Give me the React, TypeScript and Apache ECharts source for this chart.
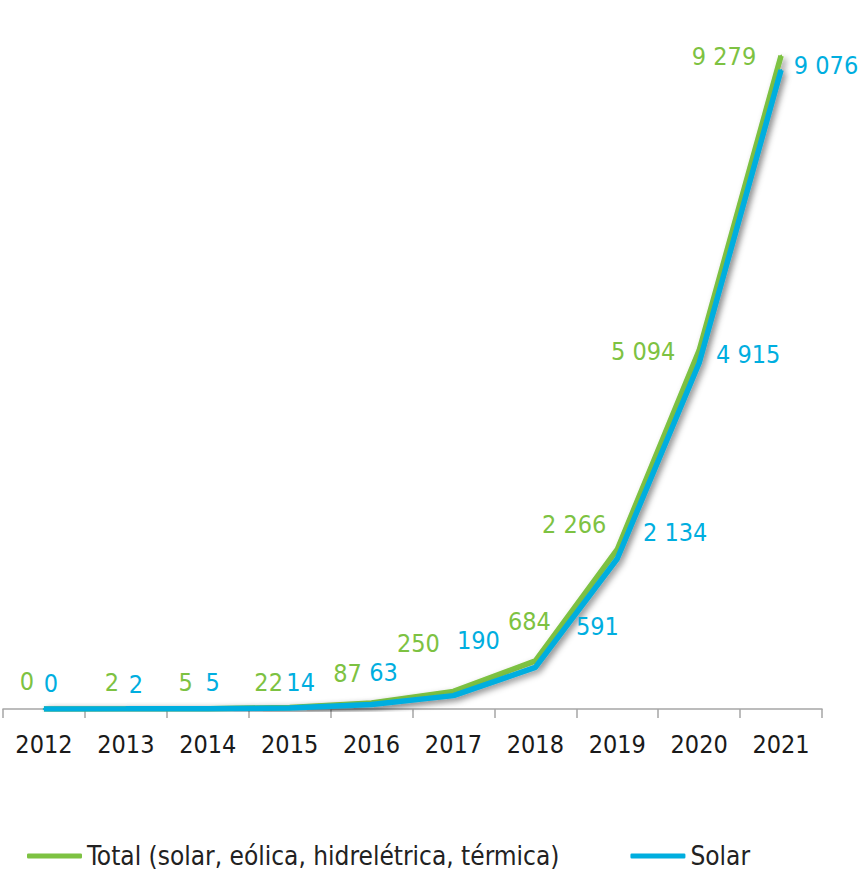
import React, { useEffect, useRef } from "react";
import * as echarts from "echarts";

const years = ["2012", "2013", "2014", "2015", "2016", "2017", "2018", "2019", "2020", "2021"];
const totalValues = [0, 2, 5, 22, 87, 250, 684, 2266, 5094, 9279];
const solarValues = [0, 2, 5, 14, 63, 190, 591, 2134, 4915, 9076];

const totalName = "Total (solar, eólica, hidrelétrica, térmica)";
const solarName = "Solar";

// label offsets (label centre relative to its point), in pixels
const totalLabelOffsets = [
  [-17, -28], [-14, -26], [-22, -26], [-21, -25], [-24, -29],
  [-35, -48], [-6, -39], [-43, -25], [-56, 1], [-57, 1],
];
const solarLabelOffsets = [
  [7, -26], [10, -24], [5, -26], [11, -26], [12, -32],
  [25, -55], [62, -41], [58, -26], [49, -8], [45, -5],
];

const GREEN = "#7DC242";
const BLUE = "#00AEDF";
const FONT = "'DejaVu Sans Condensed', 'DejaVu Sans', sans-serif";

const fmt = (v: number) => String(v).replace(/\B(?=(\d{3})+(?!\d))/g, " ");

function buildData(values: number[], offsets: number[][]) {
  return values.map((v, i) => ({
    value: v,
    label: { offset: offsets[i] },
  }));
}

export default function App() {
  const ref = useRef<HTMLDivElement>(null);
  useEffect(() => {
    if (!ref.current) return;
    const chart = echarts.init(ref.current, undefined, { renderer: "svg" });
    const lineShadow = {
      shadowColor: "rgba(0,0,0,0.4)",
      shadowBlur: 6,
      shadowOffsetX: 3,
      shadowOffsetY: 3,
    };
    chart.setOption({
      animation: false,
      backgroundColor: "#ffffff",
      grid: { left: 3, right: 42, top: 5, bottom: 163, containLabel: false },
      legend: {
        left: 22,
        top: 838,
        itemGap: 71,
        itemWidth: 55,
        itemHeight: 5,
        icon: "roundRect",
        textStyle: { fontFamily: FONT, fontSize: 26, lineHeight: 26, color: "#222222" },
        data: [totalName, solarName],
      },
      xAxis: {
        type: "category",
        data: years,
        boundaryGap: true,
        axisLine: { lineStyle: { color: "#A6A6A6", width: 1.5 } },
        axisTick: { show: true, length: 9, lineStyle: { color: "#A6A6A6", width: 1.5 } },
        axisLabel: { fontFamily: FONT, fontSize: 25, color: "#1a1a1a", margin: 23 },
      },
      yAxis: {
        type: "value",
        min: 0,
        max: 10000,
        show: false,
        splitLine: { show: false },
      },
      series: [
        {
          name: totalName,
          type: "line",
          data: buildData(totalValues, totalLabelOffsets),
          symbol: "circle",
          symbolSize: 2,
          itemStyle: { color: GREEN },
          lineStyle: { color: GREEN, width: 5.5, ...lineShadow },
          label: {
            show: true,
            position: "inside",
            align: "center",
            verticalAlign: "middle",
            color: GREEN,
            fontFamily: FONT,
            fontSize: 25,
            formatter: (p: any) => fmt(p.value),
          },
          z: 2,
        },
        {
          name: solarName,
          type: "line",
          data: buildData(solarValues, solarLabelOffsets),
          symbol: "circle",
          symbolSize: 2,
          itemStyle: { color: BLUE },
          lineStyle: { color: BLUE, width: 5.5, ...lineShadow },
          label: {
            show: true,
            position: "inside",
            align: "center",
            verticalAlign: "middle",
            color: BLUE,
            fontFamily: FONT,
            fontSize: 25,
            formatter: (p: any) => fmt(p.value),
          },
          z: 3,
        },
      ],
    });
    return () => chart.dispose();
  }, []);
  return (
    <div
      ref={ref}
      style={{ position: "fixed", left: 0, top: 0, width: 864, height: 872 }}
    />
  );
}
